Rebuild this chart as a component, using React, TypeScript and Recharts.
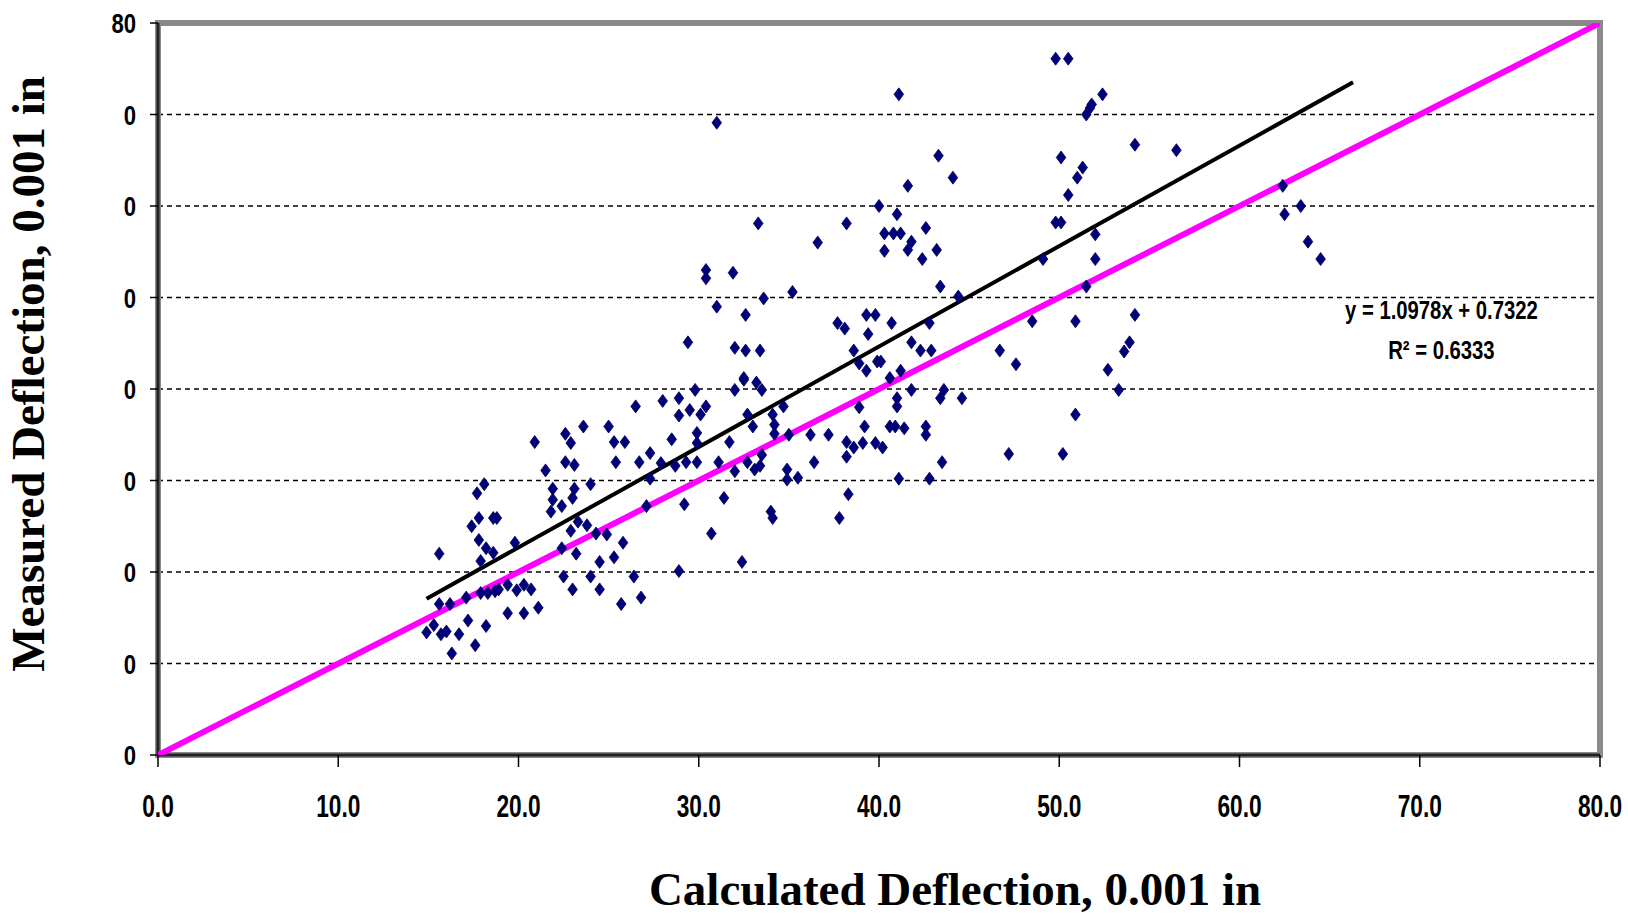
import React from 'react';
import {
  ComposedChart,
  Scatter,
  XAxis,
  YAxis,
  CartesianGrid,
  ReferenceArea,
  ReferenceDot,
} from 'recharts';

// Calculated deflection (x) and measured deflection (y), 0.001 in
const calculated: number[] = [
  14.9, 15.3, 15.7, 16.0, 16.3, 16.7, 17.2, 17.6, 18.2, 15.6, 16.2, 17.1, 17.9, 18.3, 18.7, 18.9, 19.4, 19.9, 20.3, 20.7,
  19.4, 20.3, 21.1, 15.6, 17.4, 17.8, 17.7, 18.1, 18.6, 18.8, 17.8, 18.2, 18.6, 17.9, 19.8, 20.9, 21.5, 21.9, 21.9, 21.8,
  22.4, 23.0, 23.1, 22.6, 22.9, 22.6, 23.1, 23.6, 24.0, 22.9, 23.3, 22.4, 23.2, 23.8, 24.3, 24.9, 25.8, 25.3, 24.5, 22.5,
  23.0, 24.0, 24.5, 26.4, 25.7, 26.8, 27.1, 26.5, 25.0, 25.3, 25.9, 25.4, 26.7, 27.3, 28.0, 28.9, 28.9, 29.5, 29.8, 30.1,
  30.4, 28.5, 29.9, 29.9, 27.9, 28.7, 29.3, 29.9, 27.3, 29.2, 28.9, 30.7, 31.1, 31.7, 31.4, 32.0, 32.5, 33.2, 33.5, 32.7,
  33.0, 34.1, 34.2, 34.2, 34.7, 35.0, 32.0, 32.7, 33.1, 33.4, 33.5, 32.4, 34.0, 34.1, 34.9, 34.9, 35.5,
  33.3, 38.2, 40.0, 41.0, 40.3, 40.8, 41.2, 40.3, 41.8, 41.6, 42.6, 42.4, 43.2, 36.6, 30.4, 30.4, 31.9, 33.6, 35.2, 31.0,
  32.6, 43.4, 44.4, 29.4, 32.0, 32.6, 33.4, 32.5, 37.7, 38.1, 39.3, 39.8, 39.4, 40.7, 42.8, 41.8, 42.3, 42.9, 38.6, 38.9,
  39.3, 39.9, 40.1, 41.2, 40.6, 41.8, 43.6, 43.4, 44.6, 41.0, 41.0, 38.9, 40.6, 40.9, 41.4, 42.6, 42.6, 39.2, 38.2, 38.6,
  39.1, 39.8, 40.2, 38.2, 43.5, 41.1, 42.8, 38.3, 46.7, 47.6, 47.2, 36.2, 37.2, 36.4,
  49.8, 50.5, 41.1, 51.5, 51.7, 51.8, 52.4, 43.3, 44.1, 41.6, 50.1, 54.2, 56.5, 51.3, 51.0, 50.5, 49.8, 50.1, 52.0, 52.0,
  49.1, 51.5, 48.5, 50.9, 54.2, 53.6, 53.9, 52.7, 53.3, 50.9, 50.2, 62.4, 62.5, 63.4, 63.8, 64.5,
  31.0, 37.8,
];
const measured: number[] = [
  13.4, 14.2, 13.2, 13.5, 11.1, 13.2, 14.7, 12.0, 14.1, 16.5, 16.5, 17.2, 17.7, 17.7, 17.9, 18.1, 18.6, 18.0, 18.6, 18.1,
  15.5, 15.5, 16.1, 22.0, 25.0, 25.9, 28.6, 29.6, 25.9, 25.9, 23.5, 22.6, 22.1, 21.2, 23.2, 34.2, 31.1, 29.1, 27.9, 26.6,
  27.2, 28.1, 29.1, 35.1, 34.1, 32.0, 31.7, 35.9, 29.6, 24.5, 25.5, 22.6, 22.0, 25.1, 24.2, 24.1, 23.2, 21.6, 21.1, 19.5,
  18.1, 19.5, 18.1, 19.5, 16.5, 17.2, 27.2, 38.1, 35.9, 34.2, 34.2, 32.0, 32.0, 33.0, 38.7, 39.0, 37.1, 37.7, 39.9, 37.2,
  38.1, 34.5, 35.2, 34.1, 31.9, 31.6, 32.0, 32.0, 30.2, 27.4, 20.1, 24.2, 32.0, 34.2, 28.1, 39.9, 41.0, 40.7, 39.9, 37.2,
  35.9, 37.2, 36.1, 35.1, 38.1, 35.0, 31.0, 32.0, 31.2, 31.6, 32.8, 21.1, 26.6, 25.9, 31.2, 30.1, 30.3,
  58.1, 58.1, 60.0, 59.1, 57.0, 57.0, 57.0, 55.1, 56.1, 55.2, 57.6, 54.2, 55.2, 56.0, 53.0, 52.1, 52.7, 49.9, 50.6, 49.0,
  48.1, 51.2, 50.1, 45.1, 44.5, 44.2, 44.2, 41.2, 47.2, 46.6, 48.1, 48.1, 46.0, 47.2, 47.2, 45.1, 44.2, 44.2, 44.2, 42.8,
  42.0, 43.0, 43.0, 42.0, 41.2, 39.9, 39.9, 39.0, 39.0, 39.0, 38.1, 38.0, 35.9, 35.9, 35.7, 35.9, 35.0, 35.9, 34.2, 33.6,
  34.1, 34.1, 33.6, 32.6, 32.0, 30.2, 30.2, 28.5, 44.2, 42.7, 32.9, 35.0, 35.0, 32.0,
  76.1, 76.1, 72.2, 70.0, 70.7, 71.1, 72.2, 65.5, 63.1, 62.2, 65.3, 66.7, 66.1, 64.2, 63.1, 61.2, 58.2, 58.2, 56.9, 54.2,
  54.2, 51.2, 47.4, 47.4, 48.1, 44.1, 45.1, 42.1, 39.9, 37.2, 32.9, 62.2, 59.1, 60.0, 56.1, 54.2,
  69.1, 25.9,
];

// Linear trend shown on the chart: y = 1.0978x + 0.7322, R² = 0.6333
const trendSlope = 1.0978;
const trendIntercept = 0.7322;
const trendRange: number[] = [14.9, 66.3];
const equalityRange: number[] = [0, 80];

const axisTicks: number[] = [0, 10, 20, 30, 40, 50, 60, 70, 80];
const equationLines: string[] = ['y = 1.0978x + 0.7322', 'R² = 0.6333'];
const xTitle = 'Calculated Deflection, 0.001 in';
const yTitle = 'Measured Deflection, 0.001 in';

const points = calculated.map((x, i) => ({ x, y: measured[i] }));
const trendData = trendRange.map((x) => ({ x, y: trendSlope * x + trendIntercept }));
const equalityData = equalityRange.map((v) => ({ x: v, y: v }));

const sans = "'Liberation Sans', Arial, sans-serif";
const serif = "'Liberation Serif', 'DejaVu Serif', serif";

const Diamond = (props: any) => {
  const { cx, cy } = props;
  if (cx == null || cy == null) return <g />;
  return (
    <path
      d={`M${cx},${cy - 6.5} L${cx + 4.8},${cy} L${cx},${cy + 6.5} L${cx - 4.8},${cy} Z`}
      fill="#00007a"
      stroke="#00005a"
      strokeWidth={0.8}
    />
  );
};

const NoShape = () => <g />;

const XTick = (props: any) => {
  const { x, y, payload } = props;
  return (
    <g transform={`translate(${x},${y}) scale(0.71,1)`}>
      <text x={0} y={0} dy={23} textAnchor="middle" fontFamily={sans} fontWeight="bold" fontSize={32} fill="#000">
        {Number(payload.value).toFixed(1)}
      </text>
    </g>
  );
};

const YTick = (props: any) => {
  const { x, y, payload } = props;
  return (
    <g transform={`translate(${x},${y}) scale(0.82,1)`}>
      <text x={0} y={0} dy={10} textAnchor="end" fontFamily={sans} fontWeight="bold" fontSize={27} fill="#000">
        {payload.value === 80 ? '80' : '0'}
      </text>
    </g>
  );
};

const XTitle = (props: any) => {
  const vb = props.viewBox || {};
  return (
    <text
      x={vb.x + vb.width / 2 + 76}
      y={vb.y + 150}
      textAnchor="middle"
      fontFamily={serif}
      fontWeight="bold"
      fontSize={47}
      fill="#000"
    >
      {xTitle}
    </text>
  );
};

const YTitle = (props: any) => {
  const vb = props.viewBox || {};
  const cx = 44;
  const cy = vb.y + vb.height / 2 - 15;
  return (
    <text
      x={cx}
      y={cy}
      transform={`rotate(-90, ${cx}, ${cy})`}
      textAnchor="middle"
      fontFamily={serif}
      fontWeight="bold"
      fontSize={47}
      fill="#000"
    >
      {yTitle}
    </text>
  );
};

const EquationLabel = (props: any) => {
  const vb = props.viewBox || {};
  const cx = vb.x + (vb.width || 0) / 2;
  const cy = vb.y + (vb.height || 0) / 2;
  return (
    <g transform={`translate(${cx},${cy}) scale(0.78,1)`}>
      <text x={0} y={0} textAnchor="middle" fontFamily={sans} fontWeight="bold" fontSize={26} fill="#000">
        <tspan x={0} dy={0}>{equationLines[0]}</tspan>
        <tspan x={0} dy={40}>{equationLines[1]}</tspan>
      </text>
    </g>
  );
};

export default function App() {
  return (
    <div style={{ position: 'absolute', left: 0, top: 0, width: 1628, height: 916, background: '#fff' }}>
      <ComposedChart
        width={1628}
        height={916}
        margin={{ top: 23, right: 28, bottom: 101, left: 0 }}
      >
        <CartesianGrid
          horizontal
          vertical={false}
          stroke="#000"
          strokeDasharray="5 4"
          strokeWidth={1.3}
        />
        <ReferenceArea
          x1={0}
          x2={80}
          y1={0}
          y2={80}
          fill="#fff"
          fillOpacity={0}
          stroke="#8a8a8a"
          strokeWidth={6}
          ifOverflow="visible"
        />
        <XAxis
          type="number"
          dataKey="x"
          domain={[0, 80]}
          ticks={axisTicks}
          allowDataOverflow
          interval={0}
          height={60}
          tickSize={12}
          tickMargin={27}
          tick={<XTick />}
          axisLine={{ stroke: '#222', strokeWidth: 3 }}
          tickLine={{ stroke: '#000', strokeWidth: 1.5 }}
          label={<XTitle />}
        />
        <YAxis
          type="number"
          dataKey="y"
          domain={[0, 80]}
          ticks={axisTicks}
          allowDataOverflow
          interval={0}
          width={158}
          tickSize={8}
          tickMargin={14}
          tick={<YTick />}
          axisLine={{ stroke: '#222', strokeWidth: 3 }}
          tickLine={{ stroke: '#000', strokeWidth: 1.5 }}
          label={<YTitle />}
        />
        <Scatter
          data={equalityData}
          line={{ stroke: '#ff00ff', strokeWidth: 6 }}
          lineType="joint"
          shape={NoShape}
          isAnimationActive={false}
        />
        <Scatter
          data={trendData}
          line={{ stroke: '#000', strokeWidth: 4 }}
          lineType="joint"
          shape={NoShape}
          isAnimationActive={false}
        />
        <Scatter data={points} shape={Diamond} isAnimationActive={false} />
        <ReferenceDot
          x={71.2}
          y={47.6}
          r={0}
          fill="none"
          stroke="none"
          ifOverflow="visible"
          label={<EquationLabel />}
        />
      </ComposedChart>
    </div>
  );
}
